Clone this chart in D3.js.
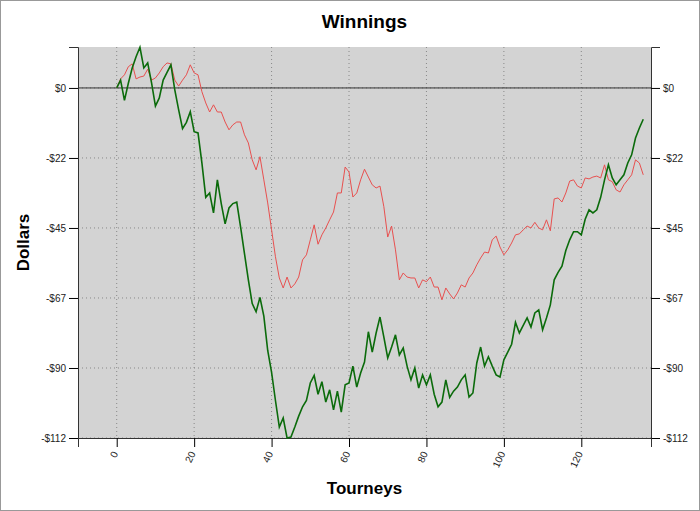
<!DOCTYPE html>
<html><head><meta charset="utf-8">
<script src="https://cdn.jsdelivr.net/npm/d3@7"></script>
<style>body{margin:0;background:#fff}svg{display:block}</style>
</head><body><svg id="chart"></svg>
<script>
const green = [0,2.5,-4,1.5,6.4,10,13,6.4,8,1.6,-5.8,-3.2,2.5,5,7.4,-0.6,-7,-13,-11,-7.6,
  -14,-14.4,-24,-35,-33.6,-40,-29.4,-37,-43.5,-38.4,-37,-36.5,-44.5,-53,-61.4,-69,-71.6,-67,-73,-84,
  -91,-100,-108.5,-105.6,-112,-111.7,-108.5,-105,-102,-100,-94.4,-92,-98,-94,-100.5,-96.6,-103,-97,-103.7,-95,
  -94.4,-89,-95.7,-91.2,-87.7,-78,-84.5,-78.4,-73.3,-79.7,-86.4,-82.9,-79,-85.4,-83.2,-89,-93.4,-89.6,-96,-91.8,
  -95,-91.8,-98,-102,-100.5,-93.4,-99,-97,-95.7,-93.4,-91.8,-98.9,-97.6,-88,-82.9,-89,-86,-89,-91.8,-92.5,
  -87,-84.5,-82,-75,-78.4,-76,-73.6,-76.5,-72,-71,-77.4,-73.6,-69.4,-61.4,-59,-57,-52,-48.6,-46,-46,
  -47,-42,-39,-40,-39,-35,-29.4,-24.6,-28.8,-31,-29.4,-27.8,-24,-21.4,-16,-12.8,-10];
const red = [0,2.9,4.2,6.8,7.7,2.9,3.5,3.8,6,2.5,3.2,4.8,6.8,8,7.7,2.5,0.6,2.5,4.2,7.4,
  4.8,4.2,-1.2,-4.8,-7.7,-5.4,-7.7,-7.7,-10.9,-13.4,-11.8,-10.9,-10.9,-15,-17.6,-23,-26.2,-22,-29.4,-36.8,
  -45.4,-54,-60.8,-64,-60.5,-64,-62.7,-60.5,-55,-53.4,-48.6,-43.8,-50,-47,-44.8,-42.2,-39.7,-33.6,-33.6,-25.3,
  -26.9,-34.9,-33.6,-29.4,-26,-28.5,-31,-32,-31.4,-38,-47.7,-44.2,-51.8,-61.4,-59.2,-60.5,-60.8,-60.8,-64,-61.4,
  -62,-60.5,-63.7,-63.7,-67.8,-64,-65.9,-67.5,-65.6,-63,-63.7,-60.8,-59.2,-56.6,-54.4,-52.5,-52.8,-48.6,-47.4,-50.9,
  -53.4,-51.8,-49.6,-47,-46.7,-45.4,-44.2,-44.8,-43,-44.8,-45.4,-42.2,-45.7,-35.5,-35.2,-36.5,-33.6,-29.8,-29.4,-31.4,
  -32,-28.8,-29.1,-28.5,-28.2,-28.8,-24.6,-29.4,-30,-32.6,-33.3,-31,-29.4,-27.8,-23,-24,-27.8];
const yTicks = [0,-22.4,-44.8,-67.2,-89.6,-112];
const yTickLabels = ["$0","-$22","-$45","-$67","-$90","-$112"];
const xTicks = [0,20,40,60,80,100,120];

const W = 700, H = 511;
const m = {left:78, right:49, top:47, bottom:73};
const svg = d3.select('#chart').attr('width', W).attr('height', H);
svg.append('rect').attr('x',0.5).attr('y',0.5).attr('width',W-1).attr('height',H-1)
  .attr('fill','#fff').attr('stroke','#999');

const x = d3.scaleLinear().domain([-10,138]).range([m.left, W-m.right]);
const y = d3.scaleLinear().domain([-112,13.1]).range([H-m.bottom, m.top]);

svg.append('rect').attr('x',m.left).attr('y',m.top)
  .attr('width',x.range()[1]-m.left).attr('height',y.range()[0]-m.top).attr('fill','#d3d3d3');

const grid = svg.append('g').attr('stroke','#888').attr('stroke-dasharray','1,3');
grid.selectAll('.gy').data(yTicks).join('line')
  .attr('x1',m.left).attr('x2',x.range()[1]).attr('y1',d=>y(d)).attr('y2',d=>y(d));
grid.selectAll('.gx').data(xTicks).join('line')
  .attr('y1',m.top).attr('y2',y.range()[0]).attr('x1',d=>x(d)).attr('x2',d=>x(d));

svg.append('line').attr('x1',m.left).attr('x2',x.range()[1]).attr('y1',y(0)).attr('y2',y(0))
  .attr('stroke','#333');

const minorY = d3.range(10,-112,-5);
const minorX = d3.range(-5,138,5);
const font = 'Liberation Sans, Arial, sans-serif';

function yAxis(axisFn, xpos){
  const g = svg.append('g').attr('transform',`translate(${xpos},0)`);
  g.call(axisFn(y).tickValues(minorY).tickSize(5).tickFormat(''));
  g.call(axisFn(y).tickValues(yTicks).tickSize(9).tickFormat((d,i)=>yTickLabels[i]));
  g.selectAll('text').attr('font-family',font).attr('font-size',10).attr('fill','#222');
  g.selectAll('.domain').attr('stroke','#333');
}
yAxis(d3.axisLeft, m.left);
yAxis(d3.axisRight, x.range()[1]);

const gx = svg.append('g').attr('transform',`translate(0,${y.range()[0]})`);
gx.call(d3.axisBottom(x).tickValues(minorX).tickSize(5).tickFormat(''));
gx.call(d3.axisBottom(x).tickValues(xTicks).tickSize(9));
gx.selectAll('.domain').attr('stroke','#333');
gx.selectAll('text').attr('font-family',font).attr('font-size',10).attr('fill','#222')
  .attr('text-anchor','end').attr('transform','translate(-2,14) rotate(-65)').attr('dy','0.35em').attr('y',0).attr('x',0);

const line = d3.line().x((d,i)=>x(i)).y(d=>y(d));
svg.append('path').datum(red).attr('d',line).attr('fill','none').attr('stroke','#e8504f').attr('stroke-width',1);
svg.append('path').datum(green).attr('d',line).attr('fill','none').attr('stroke','#0b6b0b').attr('stroke-width',1.6);

svg.append('text').attr('x',(m.left+x.range()[1])/2).attr('y',28).attr('text-anchor','middle')
  .attr('font-family',font).attr('font-weight','bold').attr('font-size',19).text('Winnings');
svg.append('text').attr('x',(m.left+x.range()[1])/2).attr('y',494).attr('text-anchor','middle')
  .attr('font-family',font).attr('font-weight','bold').attr('font-size',17).text('Tourneys');
svg.append('text').attr('transform',`translate(29,${(m.top+y.range()[0])/2}) rotate(-90)`).attr('text-anchor','middle')
  .attr('font-family',font).attr('font-weight','bold').attr('font-size',17).text('Dollars');
</script></body></html>
